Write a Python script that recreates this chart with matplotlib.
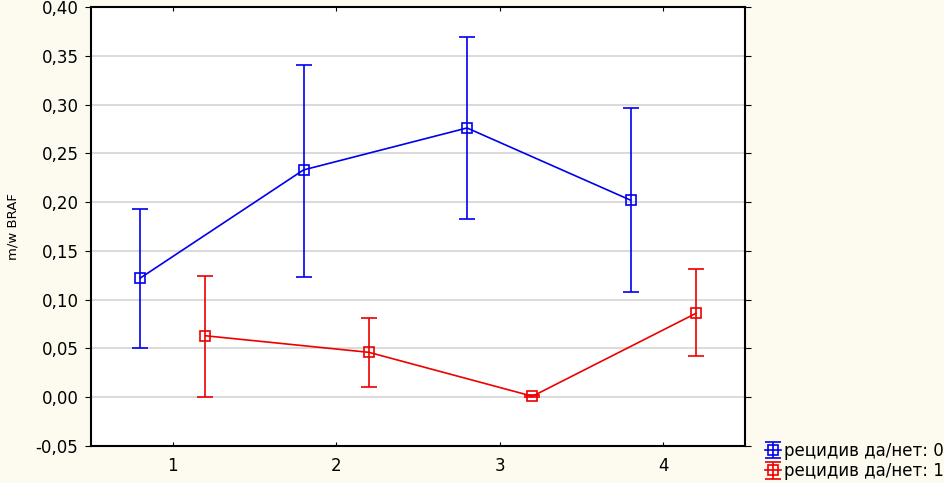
import matplotlib
matplotlib.use("Agg")
import matplotlib.pyplot as plt
from matplotlib.ticker import FuncFormatter, MultipleLocator

plt.rcParams['font.family'] = ['DejaVu Sans']

groups = [1, 2, 3, 4]
series_labels = ["рецидив да/нет: 0", "рецидив да/нет: 1"]
offsets = [-0.2, 0.2]
colors = ["#0000ee", "#ee0000"]

# means and error bar ends
means_0 = [0.122, 0.233, 0.276, 0.202]
upper_0 = [0.193, 0.341, 0.369, 0.296]
lower_0 = [0.050, 0.123, 0.183, 0.108]

means_1 = [0.063, 0.046, 0.001, 0.086]
upper_1 = [0.124, 0.081, 0.002, 0.131]
lower_1 = [0.000, 0.010, 0.000, 0.042]

bg = "#fdfaf0"
fig = plt.figure(figsize=(9.45, 4.83), dpi=100, facecolor=bg)
ax = fig.add_axes([91 / 945, 1 - 446 / 483, 654 / 945, 439 / 483])
ax.set_facecolor("white")

data = [(means_0, upper_0, lower_0), (means_1, upper_1, lower_1)]
handles = []
for (m, up, lo), off, col, lab in zip(data, offsets, colors, series_labels):
    xs = [g + off for g in groups]
    err = [[mi - l for mi, l in zip(m, lo)], [u - mi for mi, u in zip(m, up)]]
    h = ax.errorbar(xs, m, yerr=err, color=col, lw=1.2, elinewidth=1.2,
                    capsize=6, capthick=1.2, marker="s", ms=7,
                    mfc="none", mec=col, mew=1.2, label=lab)
    handles.append(h)

ax.set_xlim(0.5, 4.5)
ax.set_ylim(-0.05, 0.40)
ax.set_xticks(groups)
ax.yaxis.set_major_locator(MultipleLocator(0.05))
ax.yaxis.set_major_formatter(FuncFormatter(lambda v, p: f"{v:.2f}".replace(".", ",").replace("-0,00", "0,00")))
ax.grid(axis="y", color="#d4d4d4", lw=1.2)
ax.set_axisbelow(True)

for s in ax.spines.values():
    s.set_linewidth(1.5)
    s.set_color("black")

ax.tick_params(axis="x", direction="in", top=True, length=3, labelsize=12, pad=8)
ax.tick_params(axis="y", direction="out", length=4, labelsize=12, pad=5)
ax.tick_params(axis="y", which="both", right=True)
ax.set_ylabel("m/w BRAF", fontsize=9.5, labelpad=12)

fig.legend(handles=handles, labels=series_labels, loc="lower left",
           bbox_to_anchor=(758 / 945, -0.008), frameon=False, fontsize=12,
           handlelength=1.0, handletextpad=0.15, borderaxespad=0.0, labelspacing=0.15)

fig.savefig("out.png", dpi=100, facecolor=bg)
